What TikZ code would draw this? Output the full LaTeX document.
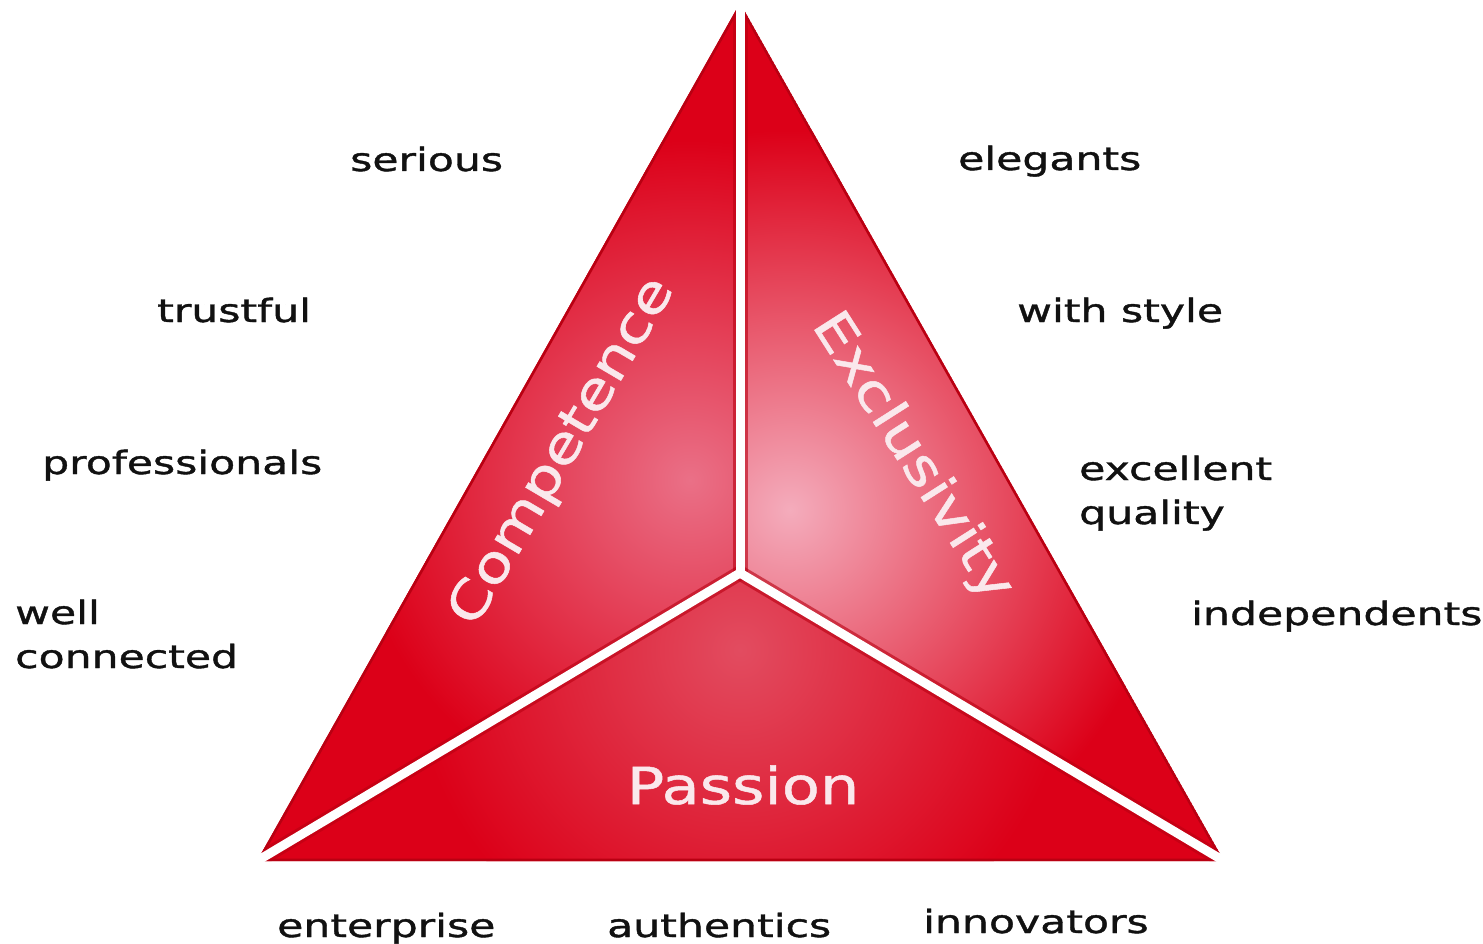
\documentclass[tikz,border=0pt]{standalone}
\usepackage{fontspec}
\usetikzlibrary{calc}
\newfontfamily\lab[FakeStretch=1.33, FakeBold=1.2]{DejaVu Sans}
\newfontfamily\seg[FakeStretch=1.22, FakeBold=1.0]{DejaVu Sans}
\definecolor{redA}{RGB}{220,0,24}
\definecolor{redD}{RGB}{185,0,18}
\definecolor{pinkL}{RGB}{234,112,135}
\definecolor{pinkR}{RGB}{244,172,188}
\definecolor{pinkB}{RGB}{226,76,96}
\definecolor{ink}{RGB}{17,17,17}
\definecolor{segtxt}{RGB}{250,232,236}
\tikzset{
  word/.style={font=\lab\fontsize{32}{32}\selectfont, text=ink, inner sep=0pt, anchor=base west},
  segword/.style={font=\seg\fontsize{51}{51}\selectfont, text=segtxt, inner sep=0pt},
  gapline/.style={white, line width=9pt},
  rimline/.style={redD, line width=15pt, opacity=0.6},
}
\begin{document}
\begin{tikzpicture}[x=1pt,y=-1pt]
\useasboundingbox[fill=white] (0,0) rectangle (1483,944);
\coordinate (A) at (740,3);
\coordinate (L) at (257,861);
\coordinate (R) at (1224,861);
\coordinate (O) at (740,573);
% extended ends for the gaps
\coordinate (Ax) at (740,-10);
\coordinate (Lx) at ($(O)!1.03!(L)$);
\coordinate (Rx) at ($(O)!1.03!(R)$);
% left face
\begin{scope}
  \clip (A) -- (L) -- (O) -- cycle;
  \fill[redA] (A) -- (L) -- (O) -- cycle;
  \shade[inner color=pinkL, outer color=redA] (690,480) circle (340pt);
\end{scope}
% right face
\begin{scope}
  \clip (A) -- (R) -- (O) -- cycle;
  \fill[redA] (A) -- (R) -- (O) -- cycle;
  \shade[inner color=pinkR, outer color=redA] (790,510) circle (380pt);
\end{scope}
% bottom face
\begin{scope}
  \clip (L) -- (R) -- (O) -- cycle;
  \fill[redA] (L) -- (R) -- (O) -- cycle;
  \shade[inner color=pinkB, outer color=redA] (740,650) circle (330pt);
\end{scope}
% rims and gaps
\begin{scope}
  \clip (A) -- (L) -- (R) -- cycle;
  \draw[redD, line width=5pt] (A) -- (L) -- (R) -- cycle;
  \draw[rimline] (O) -- (Ax);
  \draw[rimline] (O) -- (Lx);
  \draw[rimline] (O) -- (Rx);
\end{scope}
\draw[gapline] (O) -- (Ax);
\draw[gapline] (O) -- (Lx);
\draw[gapline] (O) -- (Rx);
\fill[white] (O) circle (4.5pt);
% face labels
\node[segword, rotate=59.5] (comp) at (563,452) {Competence};
\node[segword, rotate=-57.5] (excl) at (912,457) {Exclusivity};
\node[segword] (pass) at (743,785) {Passion};
% words
\node[word] (serious) at (350,171) {serious};
\node[word] (elegants) at (958,170) {elegants};
\node[word] (trustful) at (157,322) {trustful};
\node[word] (withstyle) at (1017,322) {with style};
\node[word] (prof) at (42,474) {professionals};
\node[word] (excellent) at (1079,480) {excellent};
\node[word] (quality) at (1079,524) {quality};
\node[word] (well) at (15,624) {well};
\node[word] (connected) at (15,668) {connected};
\node[word] (indep) at (1191,625) {independents};
\node[word] (enterprise) at (277,937) {enterprise};
\node[word] (authentics) at (607,937) {authentics};
\node[word] (innovators) at (923,933) {innovators};
\end{tikzpicture}
\end{document}
